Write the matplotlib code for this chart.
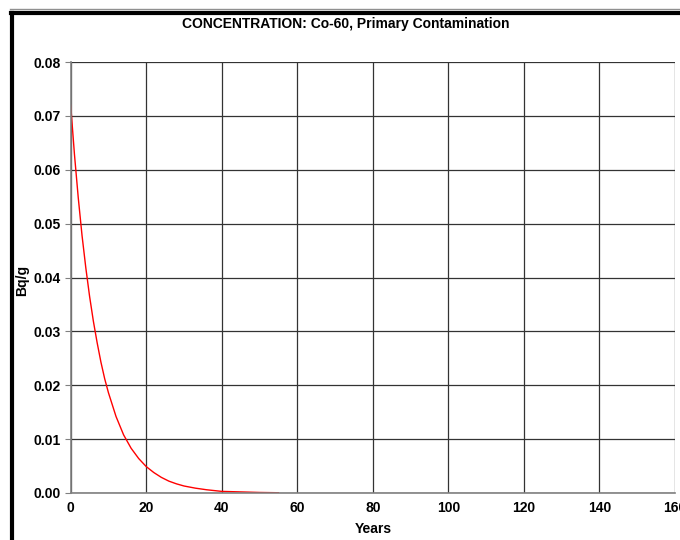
import matplotlib
matplotlib.use("Agg")
import matplotlib.pyplot as plt
from matplotlib.lines import Line2D

years = [0, 1, 2, 3, 4, 5, 6, 7, 8, 9, 10, 12, 14, 16, 18, 20, 22, 24, 26, 28, 30, 33, 36, 40, 45, 50, 55]
conc = [0.0720, 0.0628, 0.0548, 0.0478, 0.0418, 0.0365, 0.0319, 0.0279, 0.0243, 0.0212, 0.0186,
        0.0142, 0.0108, 0.0083, 0.0064, 0.0049, 0.0038, 0.0029, 0.0022, 0.0017, 0.0013, 0.0009,
        0.0006, 0.0003, 0.0002, 0.0001, 0.00005]
xticks = [0, 20, 40, 60, 80, 100, 120, 140, 160]
yticks = [0.00, 0.01, 0.02, 0.03, 0.04, 0.05, 0.06, 0.07, 0.08]

plt.rcParams['font.family'] = ['Liberation Sans', 'DejaVu Sans']
plt.rcParams['font.weight'] = 'bold'

fig = plt.figure(figsize=(6.8, 5.4), dpi=100)
W, H = 680, 540
ax = fig.add_axes([70.7 / W, 1 - 493 / H, (675 - 70.7) / W, (493 - 62) / H])
ax.plot(years, conc, color='red', lw=1.0)
ax.set_xlim(0, 160)
ax.set_ylim(0, 0.08)
ax.set_xticks(xticks)
ax.set_yticks(yticks)
ax.set_xticklabels([str(v) for v in xticks])
ax.set_yticklabels([f"{v:.2f}" for v in yticks])
ax.grid(True, color='#333333', lw=0.9)
ax.set_axisbelow(True)
for s in ['top', 'right']:
    ax.spines[s].set_visible(False)
for s in ['left', 'bottom']:
    ax.spines[s].set_color('#808080')
    ax.spines[s].set_linewidth(1.2)
ax.tick_params(axis='y', length=4, color='#808080', labelsize=10, pad=3)
ax.tick_params(axis='x', length=0, labelsize=10, pad=6)
for t in ax.get_xticklabels() + ax.get_yticklabels():
    t.set_fontweight('bold')
ax.set_xlabel('Years', fontsize=10, fontweight='bold', labelpad=5)
fig.text(22 / W, 1 - 280 / H, 'Bq/g', rotation=90, ha='center', va='center', fontsize=10, fontweight='bold')
fig.text(346 / W, 1 - 24 / H, 'CONCENTRATION: Co-60, Primary Contamination', ha='center', va='center',
         fontsize=10, fontweight='bold')

# outer chart border
fig.add_artist(Line2D([10 / W, 1], [1 - 9 / H, 1 - 9 / H], color='#909090', lw=1, transform=fig.transFigure))
fig.add_artist(Line2D([12 / W, 12 / W], [0, 1 - 12.5 / H], color='black', lw=3, transform=fig.transFigure))
fig.add_artist(Line2D([10.5 / W, 1], [1 - 12.5 / H, 1 - 12.5 / H], color='black', lw=3, transform=fig.transFigure))

fig.savefig('out.png', dpi=100)
